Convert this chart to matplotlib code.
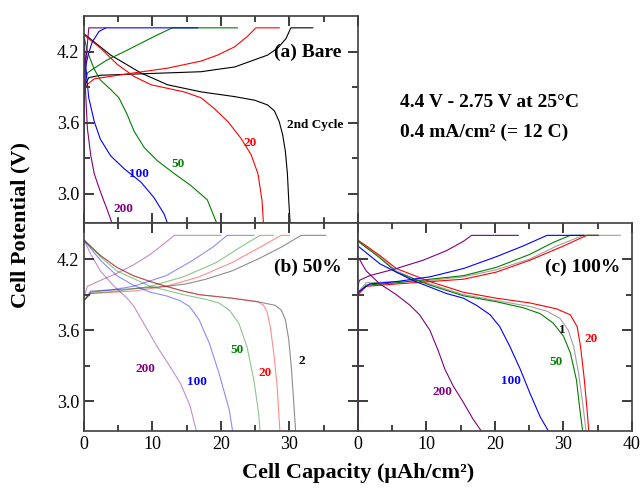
import matplotlib
matplotlib.use('Agg')
import matplotlib.pyplot as plt

plt.rcParams['font.family'] = ['Liberation Serif', 'DejaVu Serif']
plt.rcParams.update({
    'xtick.direction': 'in', 'ytick.direction': 'in',
    'xtick.top': True, 'ytick.right': True,
    'xtick.major.size': 7, 'ytick.major.size': 7,
    'xtick.minor.size': 4, 'ytick.minor.size': 4,
    'xtick.major.width': 1.3, 'ytick.major.width': 1.3,
    'xtick.minor.width': 1.1, 'ytick.minor.width': 1.1,
    'xtick.color': '#333333', 'ytick.color': '#333333',
    'xtick.labelcolor': 'black', 'ytick.labelcolor': 'black',
    'xtick.labelsize': 13, 'ytick.labelsize': 13,
})

# ---------------- (a) Bare ----------------
a2_chg_cap = [0, 0, 0.7, 2.4, 7.3, 12.2, 17.1, 19.5, 22, 24.4, 26.8, 28.3, 29.5, 30.2, 33.4]
a2_chg_v = [2.75, 3.90, 3.98, 4.00, 4.01, 4.02, 4.03, 4.05, 4.07, 4.12, 4.17, 4.23, 4.31, 4.40, 4.40]
a2_dis_cap = [0, 3.9, 8.3, 12.2, 17.1, 22, 24.9, 26.8, 27.8, 28.5, 29.0, 29.4, 29.7, 29.9, 30.1]
a2_dis_v = [4.35, 4.17, 4.02, 3.92, 3.86, 3.82, 3.79, 3.75, 3.70, 3.61, 3.50, 3.36, 3.17, 2.94, 2.75]

a20_chg_cap = [0, 0, 1.5, 7.3, 12.2, 17.1, 19.5, 22, 23.9, 25.1, 28.5]
a20_chg_v = [2.75, 3.90, 3.97, 4.02, 4.06, 4.12, 4.17, 4.24, 4.33, 4.40, 4.40]
a20_dis_cap = [0, 2.4, 4.9, 7.3, 9.8, 12.2, 14.6, 17.1, 19, 21, 22.9, 24.4, 25.4, 26, 26.2]
a20_dis_v = [4.34, 4.23, 4.09, 3.99, 3.92, 3.89, 3.86, 3.81, 3.72, 3.61, 3.47, 3.33, 3.17, 2.94, 2.75]

a50_chg_cap = [0, 0, 0.5, 1.5, 3.4, 5.9, 8.3, 10.7, 12.9, 22.4]
a50_chg_v = [2.75, 3.90, 4.02, 4.06, 4.13, 4.20, 4.27, 4.34, 4.40, 4.40]
a50_dis_cap = [0, 0.5, 1.5, 2.4, 3.9, 5.1, 6.3, 7.3, 8.8, 10.7, 13.2, 15.6, 18, 19.4]
a50_dis_v = [4.33, 4.20, 4.05, 3.96, 3.88, 3.81, 3.67, 3.53, 3.39, 3.28, 3.17, 3.07, 2.95, 2.75]

a100_chg_cap = [0, 0, 0.2, 0.6, 1.2, 2.2, 3.2, 16.6]
a100_chg_v = [2.75, 3.90, 4.06, 4.17, 4.28, 4.37, 4.40, 4.40]
a100_dis_cap = [0, 0.4, 0.7, 1.5, 2.4, 3.9, 5.9, 8.3, 10.2, 11.7, 12.2]
a100_dis_v = [4.30, 3.98, 3.81, 3.61, 3.46, 3.32, 3.21, 3.10, 2.97, 2.83, 2.75]

a200_chg_cap = [0, 0, 0.4, 0.7, 3.2]
a200_chg_v = [2.75, 3.90, 4.20, 4.40, 4.40]
a200_dis_cap = [0, 0.2, 0.5, 1.0, 1.5, 2.2, 2.9, 3.5, 4.1]
a200_dis_v = [4.25, 3.90, 3.55, 3.32, 3.17, 3.05, 2.94, 2.85, 2.75]

# ---------------- (b) 50% ----------------
b2_chg_cap = [0, 0, 1, 7.2, 12, 14.9, 17.8, 21.6, 25.4, 28.8, 31.7, 35.3]
b2_chg_v = [2.75, 3.85, 3.93, 3.95, 3.97, 3.99, 4.03, 4.10, 4.20, 4.30, 4.40, 4.40]
b2_dis_cap = [0, 2.4, 4.8, 7.2, 9.7, 12, 14.5, 16.8, 21.6, 25.4, 27.9, 28.8, 29.4, 29.9, 30.3, 30.6, 30.9]
b2_dis_v = [4.36, 4.23, 4.13, 4.06, 4.01, 3.97, 3.93, 3.90, 3.87, 3.84, 3.81, 3.77, 3.69, 3.52, 3.27, 3.01, 2.75]

b20_chg_cap = [0, 0, 1, 7.2, 12, 16.8, 21.6, 25.4, 28.8, 30]
b20_chg_v = [2.75, 3.85, 3.91, 3.93, 3.97, 4.05, 4.17, 4.29, 4.40, 4.40]
b20_dis_cap = [0, 2.4, 4.8, 7.2, 9.7, 12, 14.5, 16.8, 21.6, 25.4, 26.2, 26.7, 27.2, 27.7, 28.2, 28.6]
b20_dis_v = [4.36, 4.23, 4.13, 4.06, 4.01, 3.97, 3.93, 3.90, 3.87, 3.84, 3.81, 3.76, 3.63, 3.41, 3.13, 2.75]

b50_chg_cap = [0, 0, 1, 5, 9.7, 14.5, 19.3, 23.1, 25.7, 27.7]
b50_chg_v = [2.75, 3.85, 3.91, 3.93, 3.97, 4.05, 4.17, 4.31, 4.40, 4.40]
b50_dis_cap = [0, 2.4, 4.8, 9.7, 14.5, 17.8, 19.7, 21.2, 22.6, 23.8, 24.8, 25.5, 25.7]
b50_dis_v = [4.36, 4.22, 4.10, 3.97, 3.90, 3.86, 3.83, 3.77, 3.66, 3.46, 3.18, 2.90, 2.75]

b100_chg_cap = [0, 0, 1, 4, 7.2, 12, 15.9, 18.8, 20.9, 24.8]
b100_chg_v = [2.75, 3.85, 3.92, 3.94, 3.97, 4.06, 4.19, 4.30, 4.40, 4.40]
b100_dis_cap = [0, 2.4, 4.8, 7.2, 9.7, 12, 14, 15.4, 16.8, 18.3, 19.7, 21.2, 21.7]
b100_dis_v = [4.36, 4.19, 4.06, 3.98, 3.92, 3.89, 3.85, 3.80, 3.69, 3.49, 3.24, 2.93, 2.75]

b200_chg_cap = [0, 0, 0.5, 2.4, 4.8, 7.2, 9.7, 11.5, 13.2, 20]
b200_chg_v = [2.75, 3.88, 3.97, 4.02, 4.08, 4.15, 4.24, 4.32, 4.40, 4.40]
b200_dis_cap = [0, 1, 2.4, 4.4, 6.3, 7.3, 8.7, 10.7, 12.6, 14.1, 15.5, 16.4]
b200_dis_v = [4.36, 4.24, 4.10, 3.97, 3.87, 3.80, 3.66, 3.46, 3.29, 3.15, 2.96, 2.75]

# ---------------- (c) 100% ----------------
c1_chg_cap = [0, 0, 1.2, 5.6, 10.5, 15.4, 20.2, 25.1, 29, 32.9, 38.3]
c1_chg_v = [2.75, 3.92, 4.00, 4.01, 4.02, 4.05, 4.11, 4.20, 4.31, 4.40, 4.40]
c1_dis_cap = [0, 3.2, 5.6, 8, 10.5, 15.4, 20.2, 25.1, 27.6, 29.5, 30.7, 31.5, 32.2, 32.8, 33.3]
c1_dis_v = [4.35, 4.22, 4.10, 4.04, 3.99, 3.90, 3.85, 3.80, 3.76, 3.70, 3.60, 3.46, 3.24, 2.99, 2.75]

c20_chg_cap = [0, 0, 1.2, 5.6, 10.5, 15.4, 20.2, 25.1, 30, 33.4, 35.1]
c20_chg_v = [2.75, 3.90, 3.97, 3.99, 4.01, 4.03, 4.09, 4.19, 4.31, 4.40, 4.40]
c20_dis_cap = [0, 3.2, 5.6, 10.5, 15.4, 20.2, 25.1, 29, 31, 32, 32.5, 33, 33.4, 33.7]
c20_dis_v = [4.36, 4.23, 4.12, 4.01, 3.92, 3.87, 3.83, 3.78, 3.73, 3.63, 3.46, 3.21, 2.96, 2.75]

c50_chg_cap = [0, 0, 1.2, 5.6, 10.5, 15.4, 20.2, 25.1, 28.5, 31, 35.1]
c50_chg_v = [2.75, 3.91, 3.98, 4.00, 4.03, 4.06, 4.13, 4.24, 4.34, 4.40, 4.40]
c50_dis_cap = [0, 3.2, 5.6, 10.5, 15.4, 20.2, 24.1, 26.6, 28.5, 30, 31, 31.9, 32.4, 32.8]
c50_dis_v = [4.35, 4.21, 4.09, 3.98, 3.89, 3.84, 3.79, 3.74, 3.66, 3.55, 3.41, 3.18, 2.93, 2.75]

c100_chg_cap = [0, 0, 1.7, 5.6, 10.5, 15.4, 20.2, 24.1, 27.6, 32.9]
c100_chg_v = [2.75, 3.92, 3.99, 4.01, 4.05, 4.12, 4.22, 4.31, 4.40, 4.40]
c100_dis_cap = [0, 3.2, 8, 12.9, 15.4, 17.3, 19.3, 20.7, 22.2, 23.7, 25.1, 26.6, 27.8]
c100_dis_v = [4.31, 4.16, 4.02, 3.91, 3.87, 3.81, 3.73, 3.63, 3.46, 3.27, 3.07, 2.87, 2.75]

c200_chg_cap = [0, 0, 0.2, 1.7, 5.6, 9.5, 12.9, 15.4, 16.6, 23.4]
c200_chg_v = [2.75, 3.97, 4.02, 4.06, 4.12, 4.19, 4.27, 4.35, 4.40, 4.40]
c200_dis_cap = [0, 1.2, 3.2, 5.6, 7.6, 9, 10.5, 11.7, 12.7, 13.9, 15.4, 16.8, 18]
c200_dis_v = [4.22, 4.10, 3.99, 3.90, 3.81, 3.73, 3.60, 3.43, 3.27, 3.13, 2.99, 2.85, 2.75]

x_major = [0, 10, 20, 30, 40]
x_minor = [5, 15, 25, 35]
y_major = [3.0, 3.6, 4.2]
y_minor = [3.3, 3.9]

RED, GREEN, BLUE, PURPLE = '#ff0000', '#008000', '#0000ff', '#800080'
SPINE = '#404040'

fig = plt.figure(figsize=(6.43, 4.95), dpi=100)
W, H = 0.4261, 0.4192
ax_a = fig.add_axes([0.1306, 0.5485, W, H])
ax_b = fig.add_axes([0.1306, 0.1293, W, H])
ax_c = fig.add_axes([0.1306 + W, 0.1293, W, H])

# tick length as axes fraction (7 pt major, 4 pt minor)
ax_w_px, ax_h_px = W * 643, H * 495
px = 100 / 72.0


def draw_ticks(ax):
    tx, ty = ax.get_xaxis_transform(), ax.get_yaxis_transform()
    for vals, L in ((x_major, 7), (x_minor, 4)):
        f = L * px / ax_h_px
        for x in vals:
            for y0, y1 in ((0, f), (1 - f, 1)):
                ax.plot([x, x], [y0, y1], transform=tx, color=SPINE, lw=1.2,
                        solid_capstyle='butt', clip_on=False, zorder=5)
    for vals, L in ((y_major, 7), (y_minor, 4)):
        f = L * px / ax_w_px
        for y in vals:
            for x0, x1 in ((0, f), (1 - f, 1)):
                ax.plot([x0, x1], [y, y], transform=ty, color=SPINE, lw=1.2,
                        solid_capstyle='butt', clip_on=False, zorder=5)


for ax in (ax_a, ax_b, ax_c):
    ax.set_xlim(0, 40)
    ax.set_ylim(2.75, 4.5)
    ax.set_xticks(x_major)
    ax.set_xticks(x_minor, minor=True)
    ax.set_yticks(y_major)
    ax.set_yticks(y_minor, minor=True)
    for s in ax.spines.values():
        s.set_color(SPINE)
        s.set_linewidth(1.2)
    draw_ticks(ax)

ax_a.tick_params(labelbottom=False)
ax_c.tick_params(labelleft=False)
ax_b.set_xticks(x_major, ['0', '10', '20', '30', ''])

lw = 0.8
# panel a
for cap, v, col in [(a2_chg_cap, a2_chg_v, 'black'), (a2_dis_cap, a2_dis_v, 'black'),
                    (a20_chg_cap, a20_chg_v, RED), (a20_dis_cap, a20_dis_v, RED),
                    (a50_chg_cap, a50_chg_v, GREEN), (a50_dis_cap, a50_dis_v, GREEN),
                    (a100_chg_cap, a100_chg_v, BLUE), (a100_dis_cap, a100_dis_v, BLUE),
                    (a200_chg_cap, a200_chg_v, PURPLE), (a200_dis_cap, a200_dis_v, PURPLE)]:
    ax_a.plot(cap, v, color=col, lw=lw)

# panel b (lighter traces)
for cap, v, col in [(b2_chg_cap, b2_chg_v, 'black'), (b2_dis_cap, b2_dis_v, 'black'),
                    (b20_chg_cap, b20_chg_v, RED), (b20_dis_cap, b20_dis_v, RED),
                    (b50_chg_cap, b50_chg_v, GREEN), (b50_dis_cap, b50_dis_v, GREEN),
                    (b100_chg_cap, b100_chg_v, BLUE), (b100_dis_cap, b100_dis_v, BLUE),
                    (b200_chg_cap, b200_chg_v, PURPLE), (b200_dis_cap, b200_dis_v, PURPLE)]:
    ax_b.plot(cap, v, color=col, lw=lw, alpha=0.45)

# panel c
for cap, v, col in [(c1_chg_cap, c1_chg_v, '#a0a0a0'), (c1_dis_cap, c1_dis_v, '#a0a0a0'),
                    (c20_chg_cap, c20_chg_v, RED), (c20_dis_cap, c20_dis_v, RED),
                    (c50_chg_cap, c50_chg_v, GREEN), (c50_dis_cap, c50_dis_v, GREEN),
                    (c100_chg_cap, c100_chg_v, BLUE), (c100_dis_cap, c100_dis_v, BLUE),
                    (c200_chg_cap, c200_chg_v, PURPLE), (c200_dis_cap, c200_dis_v, PURPLE)]:
    ax_c.plot(cap, v, color=col, lw=lw)

# panel titles
ax_a.text(37.6, 4.19, '(a) Bare', fontsize=14, fontweight='bold', ha='right', va='center')
ax_b.text(37.6, 4.13, '(b) 50%', fontsize=14, fontweight='bold', ha='right', va='center')
ax_c.text(38.3, 4.13, '(c) 100%', fontsize=14, fontweight='bold', ha='right', va='center')

# cycle labels
lab = dict(fontsize=9.5, fontweight='bold', ha='center', va='center')
ax_a.text(33.8, 3.58, '2nd Cycle', color='black', **lab)
ax_a.text(24.3, 3.43, '20', color=RED, **lab)
ax_a.text(13.7, 3.25, '50', color=GREEN, **lab)
ax_a.text(8.0, 3.17, '100', color=BLUE, **lab)
ax_a.text(5.8, 2.87, '200', color=PURPLE, **lab)

ax_b.text(31.8, 3.34, '2', color='black', **lab)
ax_b.text(26.4, 3.24, '20', color=RED, **lab)
ax_b.text(22.4, 3.43, '50', color=GREEN, **lab)
ax_b.text(16.5, 3.16, '100', color=BLUE, **lab)
ax_b.text(9.0, 3.27, '200', color=PURPLE, **lab)

ax_c.text(29.9, 3.60, '1', color='black', **lab)
ax_c.text(34.1, 3.53, '20', color=RED, **lab)
ax_c.text(28.9, 3.33, '50', color=GREEN, **lab)
ax_c.text(22.4, 3.17, '100', color=BLUE, **lab)
ax_c.text(12.4, 3.08, '200', color=PURPLE, **lab)

fig.text(0.622, 0.792, '4.4 V - 2.75 V at 25°C', fontsize=14, fontweight='bold', va='center')
fig.text(0.622, 0.733, '0.4 mA/cm² (= 12 C)', fontsize=14, fontweight='bold', va='center')

fig.text(0.032, 0.545, 'Cell Potential (V)', fontsize=16, fontweight='bold',
         rotation=90, ha='center', va='center')
fig.text(0.557, 0.045, 'Cell Capacity (μAh/cm²)', fontsize=16, fontweight='bold',
         ha='center', va='center')

fig.savefig('out.png', dpi=100)
